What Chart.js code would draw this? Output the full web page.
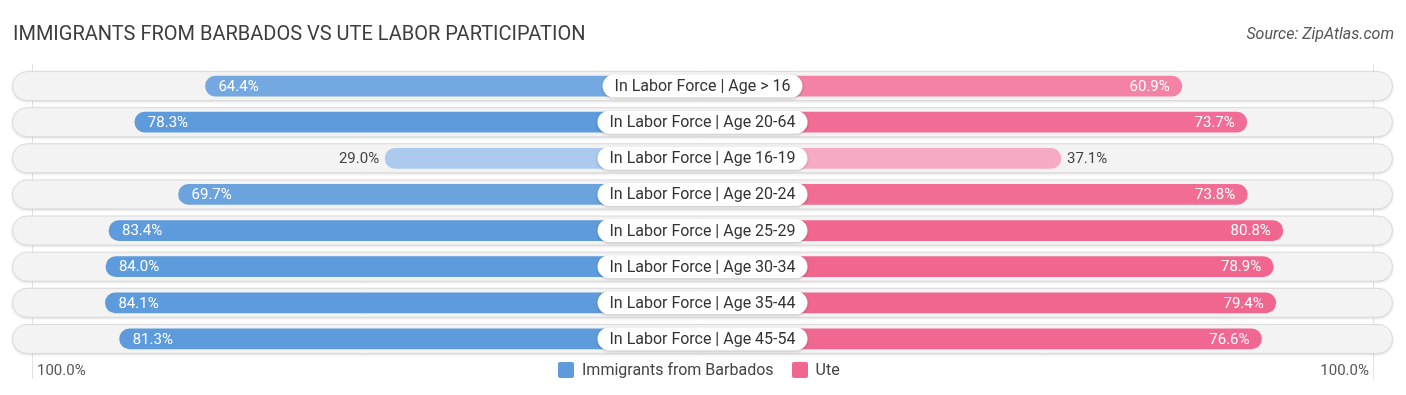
<!DOCTYPE html>
<html>
<head>
<meta charset="utf-8">
<script src="https://cdn.jsdelivr.net/npm/chart.js@4"></script>
<style>
  body { margin:0; background:#fff; font-family: Roboto, "Open Sans", sans-serif; }
  #wrap { position:relative; width:1406px; height:395px; }
  #title { position:absolute; left:13px; top:21px; font-size:20px; color:#3d3d3d; }
  #source { position:absolute; right:12px; top:24px; font-size:16px; color:#555; font-style:italic; }
  .tick { position:absolute; top:361px; font-size:15px; color:#555; }
  #legend { position:absolute; top:360px; left:558px; font-size:16px; color:#444; display:flex; align-items:center; }
  .sw { width:16px; height:16px; border-radius:2px; display:inline-block; margin-right:8px; }
</style>
</head>
<body>
<div id="wrap">
  <canvas id="myChart" width="1406" height="395"></canvas>
  <div id="title">IMMIGRANTS FROM BARBADOS VS UTE LABOR PARTICIPATION</div>
  <div id="source">Source: ZipAtlas.com</div>
  <div class="tick" style="left:37px">100.0%</div>
  <div class="tick" style="right:37px">100.0%</div>
  <div id="legend">
    <span class="sw" style="background:#5e9bdc"></span><span>Immigrants from Barbados</span>
    <span class="sw" style="background:#f0668f;margin-left:18px"></span><span>Ute</span>
  </div>
</div>
<script>
// labels and values
const categories = ["In Labor Force | Age > 16","In Labor Force | Age 20-64","In Labor Force | Age 16-19","In Labor Force | Age 20-24","In Labor Force | Age 25-29","In Labor Force | Age 30-34","In Labor Force | Age 35-44","In Labor Force | Age 45-54"];
const barbados = [64.4, 78.3, 29.0, 69.7, 83.4, 84.0, 84.1, 81.3];
const ute = [60.9, 73.7, 37.1, 73.8, 80.8, 78.9, 79.4, 76.6];

// bars start at the middle, under the label, so every bar gets this extra length
const OFFSET = 33.5;

function mix(a, b, t){
  t = Math.max(0, Math.min(1, t));
  const r = a.map((c,i)=>Math.round(c + (b[i]-c)*t));
  return "rgb("+r.join(",")+")";
}
// lighter colour for smaller values
const blueCols = barbados.map(v => mix([172,202,238],[94,155,220],(v-29)/(78-29)));
const pinkCols = ute.map(v => mix([247,170,196],[240,102,143],(v-37)/(78-37)));

function rr(ctx,x,y,w,h,r){
  ctx.beginPath();
  ctx.moveTo(x+r,y);
  ctx.lineTo(x+w-r,y);
  ctx.arc(x+w-r,y+r,r,-Math.PI/2,Math.PI/2);
  ctx.lineTo(x+r,y+h);
  ctx.arc(x+r,y+r,r,Math.PI/2,Math.PI*1.5);
  ctx.closePath();
}

const rowPlugin = {
  id:"rows",
  beforeDatasetsDraw(chart){
    const ctx = chart.ctx, a = chart.chartArea, ys = chart.scales.y, xs = chart.scales.x;
    ctx.save();
    // faint 100% lines
    ctx.strokeStyle = "#e2e2e2"; ctx.lineWidth = 1;
    [-(100+OFFSET)+1.5, 100+OFFSET-1.5].forEach(v=>{
      const x = Math.round(xs.getPixelForValue(v))+0.5;
      ctx.beginPath(); ctx.moveTo(x, a.top-4); ctx.lineTo(x, a.bottom+22); ctx.stroke();
    });
    categories.forEach((c,i)=>{
      const y = ys.getPixelForValue(i);
      ctx.save();
      ctx.shadowColor = "rgba(0,0,0,0.18)"; ctx.shadowBlur = 3; ctx.shadowOffsetY = 1;
      rr(ctx, a.left+0.5, y-14.5, a.right-a.left-1, 29, 14.5);
      ctx.fillStyle = "#f3f3f3"; ctx.fill();
      ctx.restore();
      rr(ctx, a.left+0.5, y-14.5, a.right-a.left-1, 29, 14.5);
      ctx.strokeStyle = "#dadada"; ctx.lineWidth = 1; ctx.stroke();
    });
    ctx.restore();
  },
  afterDatasetsDraw(chart){
    const ctx = chart.ctx, ys = chart.scales.y, xs = chart.scales.x;
    const cx = xs.getPixelForValue(0);
    ctx.save();
    ctx.textBaseline = "middle";
    categories.forEach((c,i)=>{
      const y = ys.getPixelForValue(i);
      // centre label pill
      ctx.font = "16px Roboto";
      const w = ctx.measureText(c).width + 24;
      ctx.save();
      ctx.shadowColor = "rgba(0,0,0,0.22)"; ctx.shadowBlur = 3; ctx.shadowOffsetY = 1;
      rr(ctx, cx-w/2, y-11.5, w, 23, 11.5);
      ctx.fillStyle = "#fff"; ctx.fill();
      ctx.restore();
      ctx.fillStyle = "#333"; ctx.textAlign = "center";
      ctx.fillText(c, cx, y+1);

      // value labels
      ctx.font = "15px Roboto";
      const lx = xs.getPixelForValue(-(barbados[i]+OFFSET));
      const lt = barbados[i].toFixed(1)+"%";
      if (barbados[i] > 45) { ctx.fillStyle="#fff"; ctx.textAlign="left"; ctx.fillText(lt, lx+13, y+1); }
      else { ctx.fillStyle="#444"; ctx.textAlign="right"; ctx.fillText(lt, lx-6, y+1); }
      const rx = xs.getPixelForValue(ute[i]+OFFSET);
      const rt = ute[i].toFixed(1)+"%";
      if (ute[i] > 45) { ctx.fillStyle="#fff"; ctx.textAlign="right"; ctx.fillText(rt, rx-12, y+1); }
      else { ctx.fillStyle="#444"; ctx.textAlign="left"; ctx.fillText(rt, rx+6, y+1); }
    });
    ctx.restore();
  }
};

new Chart(document.getElementById("myChart").getContext("2d"), {
  type:"bar",
  data:{
    labels: categories,
    datasets:[
      { label:"Immigrants from Barbados", data: barbados.map(v=>[-(v+OFFSET),0]), backgroundColor: blueCols,
        barThickness:20, borderRadius:10, borderSkipped:false, grouped:false },
      { label:"Ute", data: ute.map(v=>[0, v+OFFSET]), backgroundColor: pinkCols,
        barThickness:20, borderRadius:10, borderSkipped:false, grouped:false }
    ]
  },
  options:{
    indexAxis:"y",
    responsive:false,
    animation:false,
    layout:{ padding:{ left:12, right:13, top:68, bottom:38 } },
    scales:{
      x:{ display:false, min:-136, max:136 },
      y:{ display:false }
    },
    plugins:{ legend:{ display:false }, tooltip:{ enabled:false } }
  },
  plugins:[rowPlugin]
});
</script>
</body>
</html>
